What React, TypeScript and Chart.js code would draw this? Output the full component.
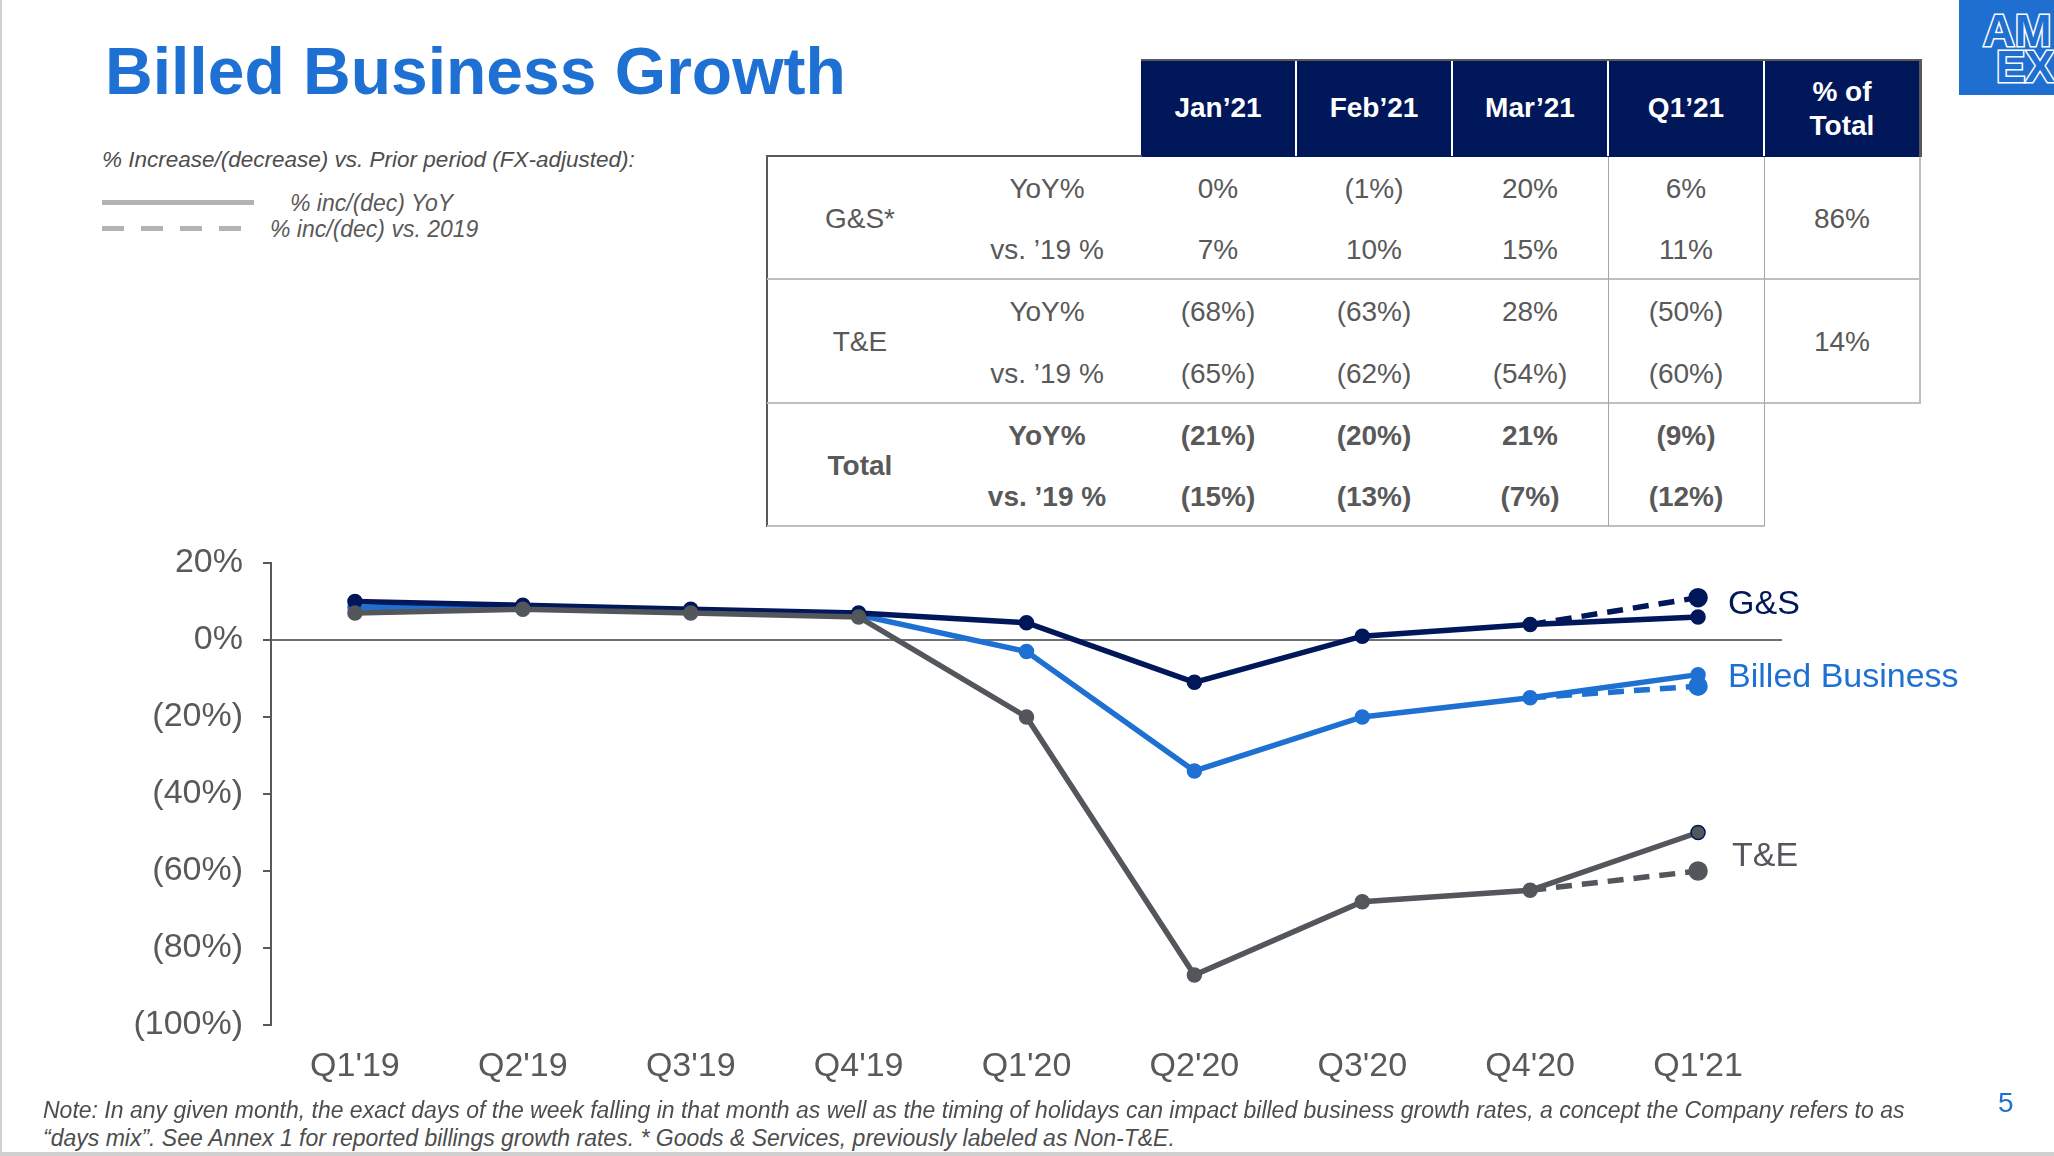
import React, { useEffect, useRef } from "react";
import { Chart, registerables } from "chart.js";

Chart.register(...registerables);

const FONT = "'Liberation Sans', Arial, Helvetica, sans-serif";
const NAVY = "#00175A";
const BLUE = "#1E71D3";
const GRAY = "#53565A";
const TEXT = "#595959";
const ZERO_LINE = "#6F7073";
const LEGEND_GRAY = "#B3B3B3";

// Chart series (% change, FX-adjusted)
const quarters = ["Q1'19", "Q2'19", "Q3'19", "Q4'19", "Q1'20", "Q2'20", "Q3'20", "Q4'20", "Q1'21"];
const gsYoY = [10, 9, 8, 7, 4.5, -11, 1, 4, 6];
const billedYoY = [8.5, 8.5, 7.5, 6.5, -3, -34, -20, -15, -9];
const teYoY = [7, 8, 7, 6, -20, -87, -68, -65, -50];
const gsVs2019 = [null, null, null, null, null, null, null, 4, 11];
const billedVs2019 = [null, null, null, null, null, null, null, -15, -12];
const teVs2019 = [null, null, null, null, null, null, null, -65, -60];

const yMin = -100;
const yMax = 20;
const yStep = 20;

// Monthly table
const periods = ["Jan’21", "Feb’21", "Mar’21", "Q1’21"];
const gsYoYRow = ["0%", "(1%)", "20%", "6%"];
const gsVs19Row = ["7%", "10%", "15%", "11%"];
const teYoYRow = ["(68%)", "(63%)", "28%", "(50%)"];
const teVs19Row = ["(65%)", "(62%)", "(54%)", "(60%)"];
const totalYoYRow = ["(21%)", "(20%)", "21%", "(9%)"];
const totalVs19Row = ["(15%)", "(13%)", "(7%)", "(12%)"];
const shareOfTotal = ["86%", "14%"];

const endLabels = [
  { text: "G&S", color: NAVY, solid: gsYoY, dashed: gsVs2019, dx: 30, dy: -3 },
  { text: "Billed Business", color: BLUE, solid: billedYoY, dashed: billedVs2019, dx: 30, dy: -3 },
  { text: "T&E", color: GRAY, solid: teYoY, dashed: teVs2019, dx: 34, dy: 5 },
];

const pct = (v: number) => (v === 0 ? "0%" : v < 0 ? `(${Math.abs(v)}%)` : `${v}%`);

type TxtProps = {
  x: number;
  base: number;
  size: number;
  align?: "left" | "center" | "right";
  color?: string;
  weight?: number;
  italic?: boolean;
  children: React.ReactNode;
  extra?: React.CSSProperties;
};

// Absolutely placed text, positioned by its baseline
function Txt({ x, base, size, align = "left", color = TEXT, weight = 400, italic = false, children, extra }: TxtProps) {
  const top = base - 0.8465 * size;
  const style: React.CSSProperties = {
    position: "absolute",
    top,
    fontSize: size,
    lineHeight: `${size}px`,
    whiteSpace: "pre",
    color,
    fontWeight: weight,
    fontStyle: italic ? "italic" : "normal",
    fontFamily: FONT,
    ...extra,
  };
  if (align === "left") style.left = x;
  else if (align === "center") {
    style.left = x - 400;
    style.width = 800;
    style.textAlign = "center";
  } else {
    style.left = x - 800;
    style.width = 800;
    style.textAlign = "right";
  }
  return <div style={style}>{children}</div>;
}

function Line({ x, y, w, h, color }: { x: number; y: number; w: number; h: number; color: string }) {
  return <div style={{ position: "absolute", left: x, top: y, width: w, height: h, background: color }} />;
}

const colCenters = [1218, 1374, 1530, 1686];
const shareCenter = 1842;
const groupCenter = 860;
const rowLabelCenter = 1047;

function DataTable() {
  const groups = [
    { name: "G&S*", yoy: gsYoYRow, vs: gsVs19Row, share: shareOfTotal[0], bold: false, top: 156 },
    { name: "T&E", yoy: teYoYRow, vs: teVs19Row, share: shareOfTotal[1], bold: false, top: 279.5 },
    { name: "Total", yoy: totalYoYRow, vs: totalVs19Row, share: null, bold: true, top: 403 },
  ];
  return (
    <>
      {/* header */}
      <div style={{ position: "absolute", left: 1141, top: 59, width: 781, height: 98, background: NAVY, borderTop: `2px solid ${TEXT}`, borderRight: `3px solid ${TEXT}`, boxSizing: "border-box" }} />
      {[1296, 1452, 1608, 1764].map((x) => (
        <Line key={x} x={x - 1} y={61} w={2} h={95} color="#FFFFFF" />
      ))}
      {periods.map((p, i) => (
        <Txt key={p} x={colCenters[i]} base={118} size={28} align="center" color="#FFFFFF" weight={700}>
          {p}
        </Txt>
      ))}
      <Txt x={shareCenter} base={102} size={28} align="center" color="#FFFFFF" weight={700}>% of</Txt>
      <Txt x={shareCenter} base={136} size={28} align="center" color="#FFFFFF" weight={700}>Total</Txt>

      {/* body rules */}
      <Line x={766} y={155} w={376} h={2} color={TEXT} />
      <Line x={766} y={155} w={2} h={372} color={TEXT} />
      <Line x={767} y={278} w={1154} h={2} color="#BFBFBF" />
      <Line x={767} y={402} w={1154} h={2} color="#BFBFBF" />
      <Line x={767} y={525} w={998} h={2} color="#BFBFBF" />
      <Line x={1608} y={157} w={1} h={369} color="#A6A6A6" />
      <Line x={1764} y={157} w={1} h={369} color="#A6A6A6" />
      <Line x={1919} y={157} w={2} h={246} color="#BFBFBF" />

      {groups.map((g) => {
        const yoyBase = g.top + 42.3;
        const vsBase = g.top + 104;
        const w = g.bold ? 700 : 400;
        return (
          <React.Fragment key={g.name}>
            <Txt x={groupCenter} base={g.top + 72.3} size={28} align="center" weight={w}>{g.name}</Txt>
            <Txt x={rowLabelCenter} base={yoyBase} size={28} align="center" weight={w}>YoY%</Txt>
            <Txt x={rowLabelCenter} base={vsBase} size={28} align="center" weight={w}>vs. ’19 %</Txt>
            {g.yoy.map((v, i) => (
              <Txt key={"y" + i} x={colCenters[i]} base={yoyBase} size={28} align="center" weight={w}>{v}</Txt>
            ))}
            {g.vs.map((v, i) => (
              <Txt key={"v" + i} x={colCenters[i]} base={vsBase} size={28} align="center" weight={w}>{v}</Txt>
            ))}
            {g.share && (
              <Txt x={shareCenter} base={g.top + 72.3} size={28} align="center">{g.share}</Txt>
            )}
          </React.Fragment>
        );
      })}
    </>
  );
}

const endLabelPlugin = {
  id: "endLabels",
  afterDatasetsDraw(chart: any) {
    const { ctx, scales } = chart;
    const i = quarters.length - 1;
    endLabels.forEach((l) => {
      const px = scales.x.getPixelForValue(i) + l.dx;
      const mid = ((l.solid[i] as number) + (l.dashed[i] as number)) / 2;
      const py = scales.y.getPixelForValue(mid) + l.dy;
      ctx.save();
      ctx.font = `34px ${FONT}`;
      ctx.fillStyle = l.color;
      ctx.textAlign = "left";
      ctx.textBaseline = "middle";
      ctx.fillText(l.text, px, py);
      ctx.restore();
    });
  },
};

function GrowthChart() {
  const ref = useRef<HTMLCanvasElement | null>(null);
  useEffect(() => {
    if (!ref.current) return;
    const last = quarters.length - 1;
    const solid = (label: string, data: number[], color: string, order: number, lastBorder?: string) => ({
      label,
      data,
      borderColor: color,
      backgroundColor: color,
      pointBackgroundColor: color,
      pointBorderColor: data.map((_, i) => (i === last && lastBorder ? lastBorder : color)),
      pointBorderWidth: 1.5,
      borderWidth: 5.5,
      pointRadius: 7,
      pointHoverRadius: 7,
      tension: 0,
      order,
    });
    const dashed = (label: string, data: (number | null)[], color: string, order: number) => ({
      label,
      data,
      borderColor: color,
      backgroundColor: color,
      pointBackgroundColor: color,
      pointBorderColor: color,
      borderWidth: 5.5,
      borderDash: [16, 10],
      pointRadius: (c: any) => (c.dataIndex === last ? 7 : 0),
      pointHoverRadius: 7,
      tension: 0,
      order,
    });
    const chart = new Chart(ref.current, {
      type: "line",
      data: {
        labels: quarters,
        datasets: [
          solid("T&E", teYoY, GRAY, 1, NAVY),
          solid("G&S", gsYoY, NAVY, 2),
          solid("Billed Business", billedYoY, BLUE, 3),
          dashed("G&S vs. 2019", gsVs2019, NAVY, 0),
          dashed("Billed Business vs. 2019", billedVs2019, BLUE, 0),
          dashed("T&E vs. 2019", teVs2019, GRAY, 0),
        ] as any,
      },
      options: {
        animation: false,
        responsive: false,
        devicePixelRatio: 1,
        layout: { padding: { left: 0, right: 272, top: 41, bottom: 0 } },
        plugins: { legend: { display: false }, tooltip: { enabled: false } },
        scales: {
          x: {
            offset: true,
            grid: { display: false },
            border: { display: false },
            ticks: { color: TEXT, font: { size: 34, family: FONT }, padding: 13, maxRotation: 0, autoSkip: false },
            afterFit: (s: any) => {
              s.height = 77;
            },
          },
          y: {
            min: yMin,
            max: yMax,
            ticks: {
              stepSize: yStep,
              color: TEXT,
              font: { size: 34, family: FONT },
              padding: 20,
              callback: (v: any) => pct(Number(v)),
            },
            grid: {
              color: (c: any) => (c.tick && c.tick.value === 0 ? ZERO_LINE : "rgba(0,0,0,0)"),
              lineWidth: 2,
              drawTicks: true,
              tickLength: 8,
              tickColor: TEXT,
              tickWidth: 2,
            },
            border: { display: true, color: TEXT, width: 2 },
            afterFit: (s: any) => {
              s.width = 271;
            },
          },
        },
      } as any,
      plugins: [endLabelPlugin],
    });
    return () => chart.destroy();
  }, []);
  return (
    <canvas
      ref={ref}
      width={2054}
      height={580}
      style={{ position: "absolute", left: 0, top: 521.5, width: 2054, height: 580 }}
    />
  );
}

export default function App() {
  useEffect(() => {
    document.body.style.margin = "0";
  }, []);
  return (
    <div style={{ position: "absolute", left: 0, top: 0, width: 2054, height: 1156, overflow: "hidden", background: "#FFFFFF", fontFamily: FONT }}>
      {/* slide edges */}
      <Line x={0} y={0} w={2} h={1156} color="#D0D0D0" />
      <Line x={0} y={1152} w={2054} h={4} color="#D0D0D0" />

      <Txt x={105} base={94} size={66} color={BLUE} weight={700}>Billed Business Growth</Txt>
      <Txt x={102} base={168} size={22.5} italic color="#4D4D4D">% Increase/(decrease) vs. Prior period (FX-adjusted):</Txt>

      {/* line-style key */}
      <Line x={102} y={199.5} w={152} h={5} color={LEGEND_GRAY} />
      <div style={{ position: "absolute", left: 102, top: 225.5, width: 145, height: 5, background: `repeating-linear-gradient(to right, ${LEGEND_GRAY} 0 22px, transparent 22px 39px)` }} />
      <Txt x={290} base={211} size={23} italic>% inc/(dec) YoY</Txt>
      <Txt x={270} base={237} size={23} italic>% inc/(dec) vs. 2019</Txt>

      <DataTable />

      <GrowthChart />

      <Txt x={43} base={1118} size={23} italic color="#4D4D4D">
        Note: In any given month, the exact days of the week falling in that month as well as the timing of holidays can impact billed business growth rates, a concept the Company refers to as
      </Txt>
      <Txt x={43} base={1146} size={23} italic color="#4D4D4D">
        “days mix”. See Annex 1 for reported billings growth rates. * Goods &amp; Services, previously labeled as Non-T&amp;E.
      </Txt>
      <Txt x={1998} base={1113} size={28} color={BLUE}>5</Txt>

      {/* brand mark */}
      <div style={{ position: "absolute", left: 1959, top: 0, width: 95, height: 95, background: "#1F6FD0", overflow: "hidden" }}>
        <Txt x={24} base={46} size={44} color="#1F6FD0" weight={700} extra={{ WebkitTextStroke: "3px #FFFFFF", paintOrder: "stroke fill" } as any}>AM</Txt>
        <Txt x={37} base={82} size={44} color="#1F6FD0" weight={700} extra={{ WebkitTextStroke: "3px #FFFFFF", paintOrder: "stroke fill" } as any}>EX</Txt>
      </div>
    </div>
  );
}
